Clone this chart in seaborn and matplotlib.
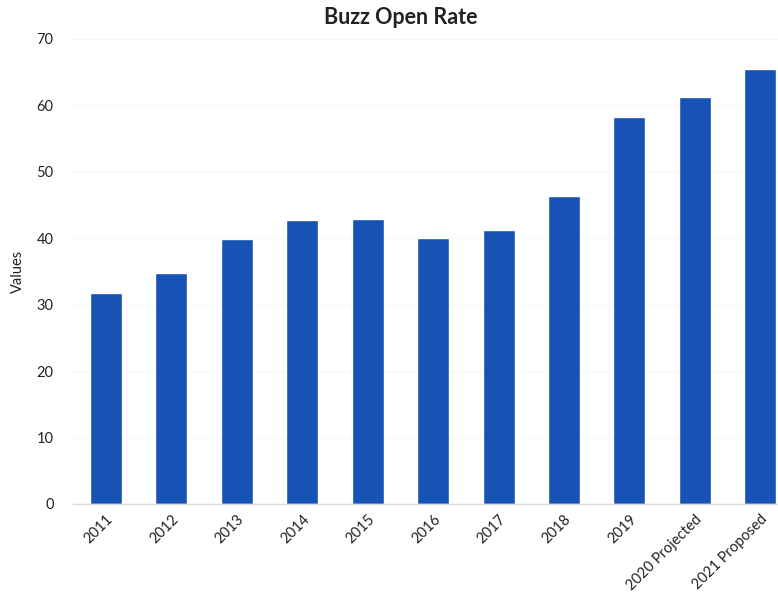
import matplotlib
matplotlib.use("Agg")
import matplotlib.pyplot as plt
import seaborn as sns
import pandas as pd

categories = ["2011", "2012", "2013", "2014", "2015", "2016", "2017", "2018",
              "2019", "2020 Projected", "2021 Proposed"]
values = [31.7, 34.8, 39.9, 42.8, 42.9, 40.1, 41.2, 46.3, 58.3, 61.2, 65.5]
y_ticks = [0, 10, 20, 30, 40, 50, 60, 70]

sns.set_theme(style="white")
plt.rcParams['font.family'] = ['Lato', 'DejaVu Sans']

df = pd.DataFrame({"cat": categories, "val": values})

fig = plt.figure(figsize=(7.78, 5.99), dpi=100)
ax = fig.add_axes([0.094, 0.1586, 0.906, 0.7764])
sns.barplot(data=df, x="cat", y="val", color="#1653b5", saturation=1,
            width=0.49, ax=ax)
ax.set_xlim(-0.5, 10.27)
ax.set_ylim(0, 70)
ax.set_yticks(y_ticks)
ax.set_yticklabels([str(t) for t in y_ticks], fontsize=10.5, color="#222222")
ax.set_xticks(range(len(categories)))
ax.set_xticklabels(categories, rotation=45, ha="right", rotation_mode="anchor",
                   fontsize=10.5, color="#222222")
ax.tick_params(axis="both", length=0, pad=14)
ax.tick_params(axis="x", pad=6)
ax.set_xlabel("")
ax.set_ylabel("Values", fontsize=10.5, color="#222222", labelpad=8)
ax.yaxis.grid(True, color="#f6f6f6", linewidth=0.8)
ax.set_axisbelow(True)
for s in ["top", "right", "left"]:
    ax.spines[s].set_visible(False)
ax.spines["bottom"].set_color("#dddddd")
ax.spines["bottom"].set_linewidth(1)
fig.text(0.515, 0.97, "Buzz Open Rate", ha="center", va="center",
         fontsize=15.5, fontweight="bold", color="#222222")
fig.savefig("out.png", dpi=100)
